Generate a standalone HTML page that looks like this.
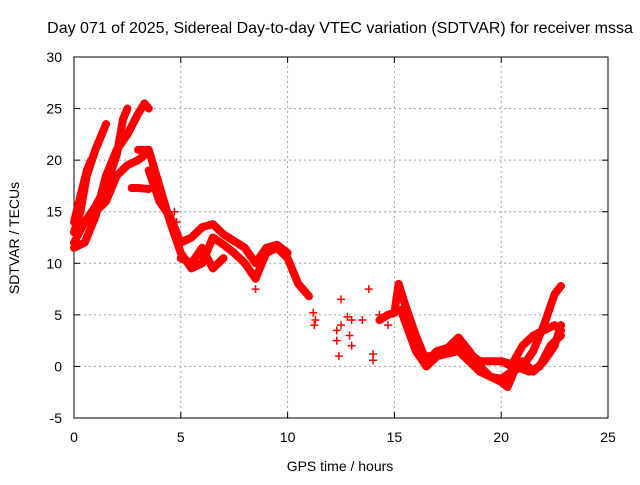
<!DOCTYPE html>
<html><head><meta charset="utf-8"><style>
body{margin:0;background:#fff;width:640px;height:480px;overflow:hidden}
svg text{font-family:"Liberation Sans",sans-serif;font-size:14px;fill:#000}
</style></head><body>
<svg id="c" width="640" height="480" xmlns="http://www.w3.org/2000/svg"></svg>
<script>
const xTicks=[0,5,10,15,20,25];
const yTicks=[-5,0,5,10,15,20,25,30];
const title="Day 071 of 2025, Sidereal Day-to-day VTEC variation (SDTVAR) for receiver mssa";
const track1=[[0,13],[0.3,15],[0.6,18.5],[1,21],[1.5,23.5]];
const track2=[[0,12],[0.5,14],[1,15.5],[1.5,17.5],[2,20.5],[2.3,24],[2.5,25]];
const track3=[[0,11.5],[0.5,12],[1,14.5],[1.5,18.5],[2,21],[2.5,22.5],[3,24.5],[3.3,25.5],[3.5,25]];
const track4=[[0,14],[0.3,16.5],[0.6,19],[0.8,20]];
const track5=[[1,15],[1.5,16],[2,18.5],[2.5,19.5],[3,20],[3.3,20.5]];
const track5b=[[2.7,17.3],[3,17.3],[3.5,17.2]];
const track6=[[3,21],[3.5,21],[4,17.5],[4.5,14],[5,11],[5.5,9.5],[6,10],[6.5,12.5],[7,11.8],[7.5,11],[8,10],[8.5,8.5],[9,11],[9.5,11.5],[10,10.5],[10.5,8],[11,6.8]];
const track7=[[3.5,19],[4,16],[4.5,14.5],[5,12],[5.5,12.5],[6,13.5],[6.5,13.8],[7,12.8],[8,11.5],[8.5,10],[9,11.5],[9.5,11.8],[10,11]];
const track8=[[5,10.5],[5.5,10],[6,11.5],[6.5,9.5],[7,10.5]];
const track9=[[14.3,4.5],[14.7,5],[15,5.2],[15.2,8],[15.5,6],[16,3],[16.5,0.5],[17,1.5],[17.5,1.8],[18,2.8],[18.5,1.5],[19,0],[19.5,-1],[20,-1.2],[20.5,-0.5],[21,0],[21.5,1.5],[22,4],[22.5,7],[22.8,7.8]];
const track10=[[15.3,5.5],[16,1.5],[16.5,0],[17,1],[18,2],[19,0.5],[20,0.5],[20.5,0.2],[21,2],[21.5,3],[22,3.5],[22.5,4],[22.8,3.5]];
const track11=[[16.5,1],[17,1],[18,1.5],[19,-0.5],[20,-1.5],[20.3,-2],[20.7,0],[21.3,-0.5],[21.8,0],[22.3,2],[22.8,3]];
const track12=[[20,0.5],[20.5,0],[21,0.5],[21.5,-0.5],[22,0.5],[22.5,2],[22.8,4]];
const scatterPts=[[4.7,15],[4.8,14],[8.5,7.5],[11.2,5.2],[11.3,4.5],[11.25,4],[12.3,3.5],[12.3,2.5],[12.4,1],[12.5,6.5],[12.5,4],[12.8,4.8],[12.9,3],[13,2],[13,4.5],[13.5,4.5],[13.8,7.5],[14,1.2],[14,0.6],[14.3,5],[14.7,4]];
const tracks=[track1,track2,track3,track4,track5,track5b,track6,track7,track8,track9,track10,track11,track12];
const X0=74,X1=608,Y0=418,Y1=57;
const xs=v=>X0+(v-0)/25*(X1-X0);
const ys=v=>Y0-(v+5)/35*(Y0-Y1);
const svg=document.getElementById('c');
const NS="http://www.w3.org/2000/svg";
function mk(t,a){const e=document.createElementNS(NS,t);for(const k in a)e.setAttribute(k,a[k]);svg.appendChild(e);return e;}
let e;
e=mk('rect',{x:X0,y:Y1,width:X1-X0,height:Y0-Y1,fill:'none',stroke:'#000','stroke-width':1});


xTicks.forEach(v=>{
 if(v>0&&v<25){e=mk('line',{x1:xs(v),x2:xs(v),y1:Y0,y2:Y1,stroke:'#a0a0a0','stroke-dasharray':'2,3'});
 
 }
 e=mk('line',{x1:xs(v),x2:xs(v),y1:Y0,y2:Y0-6,stroke:'#000'});
 e=mk('line',{x1:xs(v),x2:xs(v),y1:Y1,y2:Y1+6,stroke:'#000'});
 e=mk('text',{x:xs(v),y:Y0+24,'text-anchor':'middle'});e.textContent=v;
 
 
});
yTicks.forEach(v=>{
 if(v>-5&&v<30){e=mk('line',{x1:X0,x2:X1,y1:ys(v),y2:ys(v),stroke:'#a0a0a0','stroke-dasharray':'2,3'});
 
 }
 e=mk('line',{x1:X0,x2:X0+6,y1:ys(v),y2:ys(v),stroke:'#000'});
 e=mk('line',{x1:X1,x2:X1-6,y1:ys(v),y2:ys(v),stroke:'#000'});
 e=mk('text',{x:X0-12,y:ys(v)+5,'text-anchor':'end'});e.textContent=v;
 
 
});
tracks.forEach(tr=>{
 e=mk('polyline',{points:tr.map(p=>xs(p[0])+','+ys(p[1])).join(' '),fill:'none',stroke:'#f00','stroke-width':8,'stroke-linejoin':'round','stroke-linecap':'round'});
 
 
});
scatterPts.forEach(p=>{
 const x=xs(p[0]),y=ys(p[1]);
 e=mk('path',{d:`M${x-4},${y}H${x+4}M${x},${y-4}V${y+4}`,stroke:'#f00','stroke-width':1.5});
 
 
});
e=mk('text',{x:340,y:33,'text-anchor':'middle','font-size':'16'});e.textContent=title;
e.setAttribute('style','font-size:16px');


e=mk('text',{x:340,y:471,'text-anchor':'middle'});e.textContent="GPS time / hours";


e=mk('text',{x:0,y:0,'text-anchor':'middle',transform:'translate(19,238) rotate(-90)'});e.textContent="SDTVAR / TECUs";


</script>
</body></html>
